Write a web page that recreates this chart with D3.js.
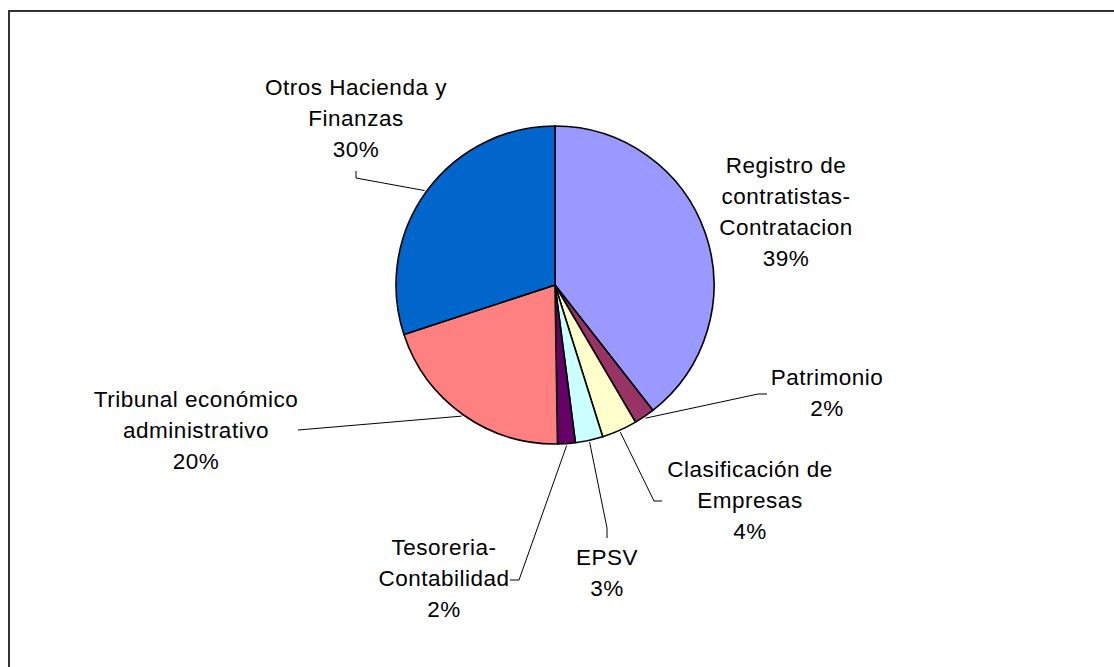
<!DOCTYPE html>
<html>
<head>
<meta charset="utf-8">
<script src="https://cdn.jsdelivr.net/npm/d3@7"></script>
<style>
  html, body { margin: 0; padding: 0; background: #fff; overflow: hidden; }
  text { font-family: "Liberation Sans", Arial, sans-serif; }
</style>
</head>
<body>
<div id="container"></div>
<script>
let w = 1114;
let h = 667;

// DATA (share of total, in %)
let categories = [
  "Registro de\ncontratistas-\nContratacion",
  "Patrimonio",
  "Clasificación de\nEmpresas",
  "EPSV",
  "Tesoreria-\nContabilidad",
  "Tribunal económico\nadministrativo",
  "Otros Hacienda y\nFinanzas"
];
let values = [39.45, 2.1, 3.6, 2.8, 1.8, 20.2, 30.05];
let colors = ["#9999ff", "#993366", "#ffffcc", "#ccffff", "#660066", "#ff8080", "#0066cc"];

// label layout: centre x, first baseline y, leader line points (label side first)
let labelPos = [
  {x: 786, y: 173, leader: null},
  {x: 827, y: 385, leader: [[767, 394], [758, 394]]},
  {x: 750, y: 477, leader: [[662, 501], [654, 501]]},
  {x: 607, y: 565, leader: [[607, 538], [607, 528]]},
  {x: 444, y: 555, leader: [[510, 580], [519, 580]]},
  {x: 196, y: 407, leader: [[298, 430]]},
  {x: 356, y: 95, leader: [[356, 171], [356, 178]]}
];
let lineGap = 31;

let cx = 555, cy = 285, r = 159;

let viz = d3.select("#container").append("svg")
  .attr("width", w)
  .attr("height", h)
  .style("display", "block");

// chart area border (only top and left fall inside the picture)
viz.append("path")
  .attr("d", d3.line()([[9, h + 10], [9, 11], [w + 10, 11]]))
  .attr("fill", "none")
  .attr("stroke", "#333")
  .attr("stroke-width", 2);

let pie = d3.pie().sort(null).value(function(d){ return d; });
let arcs = pie(values);
let arcMaker = d3.arc().innerRadius(0).outerRadius(r);

let g = viz.append("g").attr("transform", "translate(" + cx + "," + cy + ")");

g.selectAll(".slice").data(arcs).enter()
  .append("path")
  .attr("class", "slice")
  .attr("d", arcMaker)
  .attr("fill", function(d, i){ return colors[i]; })
  .attr("stroke", "#000")
  .attr("stroke-width", 1.6)
  .attr("stroke-linejoin", "round");

let total = d3.sum(values);
let pct = function(v){ return Math.round(v / total * 100) + "%"; };

// leader lines
arcs.forEach(function(d, i){
  let lp = labelPos[i];
  if (!lp.leader) return;
  let mid = (d.startAngle + d.endAngle) / 2;
  let edge = [cx + Math.sin(mid) * (r + 2), cy - Math.cos(mid) * (r + 2)];
  let pts = lp.leader.concat([edge]);
  viz.append("path")
    .attr("d", d3.line()(pts))
    .attr("fill", "none")
    .attr("stroke", "#000")
    .attr("stroke-width", 1);
});

// labels
categories.forEach(function(name, i){
  let lp = labelPos[i];
  let lines = name.split("\n").concat([pct(values[i])]);
  let t = viz.append("text")
    .attr("text-anchor", "middle")
    .attr("font-size", "22.5px")
    .attr("letter-spacing", "0.5px")
    .attr("fill", "#000");
  lines.forEach(function(s, k){
    t.append("tspan")
      .attr("x", lp.x)
      .attr("y", lp.y + k * lineGap)
      .text(s);
  });
});
</script>
</body>
</html>
